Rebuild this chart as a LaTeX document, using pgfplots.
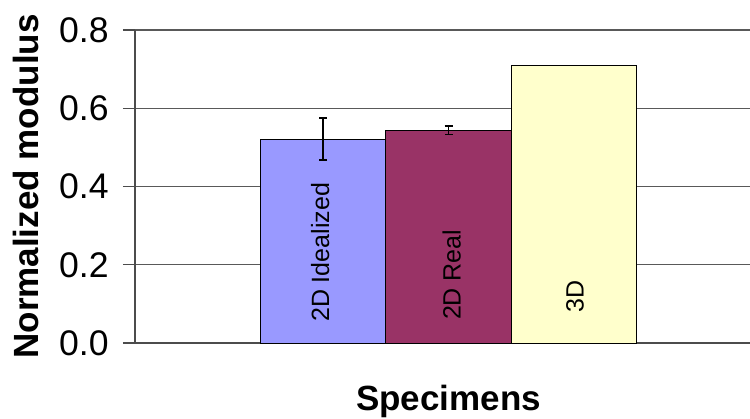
\documentclass[border=0pt]{standalone}
\usepackage{fontspec}
\setmainfont{Liberation Sans}
\usepackage{pgfplots}
\pgfplotsset{compat=1.18}
\definecolor{cblue}{HTML}{9999FF}
\definecolor{cred}{HTML}{993366}
\definecolor{cyel}{HTML}{FFFFCC}
\begin{document}
\begin{tikzpicture}
\begin{axis}[
  at={(0,0)}, anchor=south west,
  scale only axis, width=307.5pt, height=156.5pt,
  xmin=-0.502, xmax=4.406, ymin=0, ymax=0.8,
  axis lines*=left,
  axis line style={black!70, line width=0.6pt},
  xtick=\empty,
  ytick={0,0.2,0.4,0.6,0.8},
  ymajorgrids, grid style={black!65, line width=0.6pt},
  tick align=outside, major tick length=6pt,
  tick style={black!70, line width=0.6pt},
  yticklabel style={font=\fontsize{17.8}{20}\selectfont, anchor=east, inner sep=0pt, xshift=-7pt,
    /pgf/number format/.cd, fixed, fixed zerofill, precision=1, assume math mode=true},
  xlabel={Specimens},
  xlabel style={font=\fontsize{17.5}{20}\selectfont\bfseries, at={(axis description cs:0.51,0)},
    anchor=base, yshift=-33.5pt},
  clip=false,
]
\addplot[ybar, bar width=1, bar shift=0, fill=cblue, draw=black, line width=0.5pt,
  error bars/.cd, y dir=both, y explicit,
  error bar style={black, line width=0.8pt},
  error mark options={rotate=90, mark size=2pt, black, line width=0.8pt}]
  coordinates {(1,0.521) +- (0,0.054)};
\addplot[ybar, bar width=1, bar shift=0, fill=cred, draw=black, line width=0.5pt,
  error bars/.cd, y dir=both, y explicit,
  error bar style={black, line width=0.8pt},
  error mark options={rotate=90, mark size=2pt, black, line width=0.8pt}]
  coordinates {(2,0.544) +- (0,0.0106)};
\addplot[ybar, bar width=1, bar shift=0, fill=cyel, draw=black, line width=0.5pt]
  coordinates {(3,0.71)};
\node[rotate=90, font=\fontsize{12.5}{15}\selectfont] at (axis cs:0.975,0.2316) {2D Idealized};
\node[rotate=90, font=\fontsize{12.5}{15}\selectfont] at (axis cs:2.026,0.1743) {2D Real};
\node[rotate=90, font=\fontsize{12.5}{15}\selectfont] at (axis cs:3.01,0.1189) {3D};
\end{axis}
\node[rotate=90, anchor=center, inner sep=0pt, font=\fontsize{17.5}{20}\selectfont\bfseries]
  at (-54.75pt,78.25pt) {Normalized modulus};
\pgfresetboundingbox
\path (-67.5pt,-37.5pt) rectangle (307.5pt,171.5pt);
\end{tikzpicture}
\end{document}
